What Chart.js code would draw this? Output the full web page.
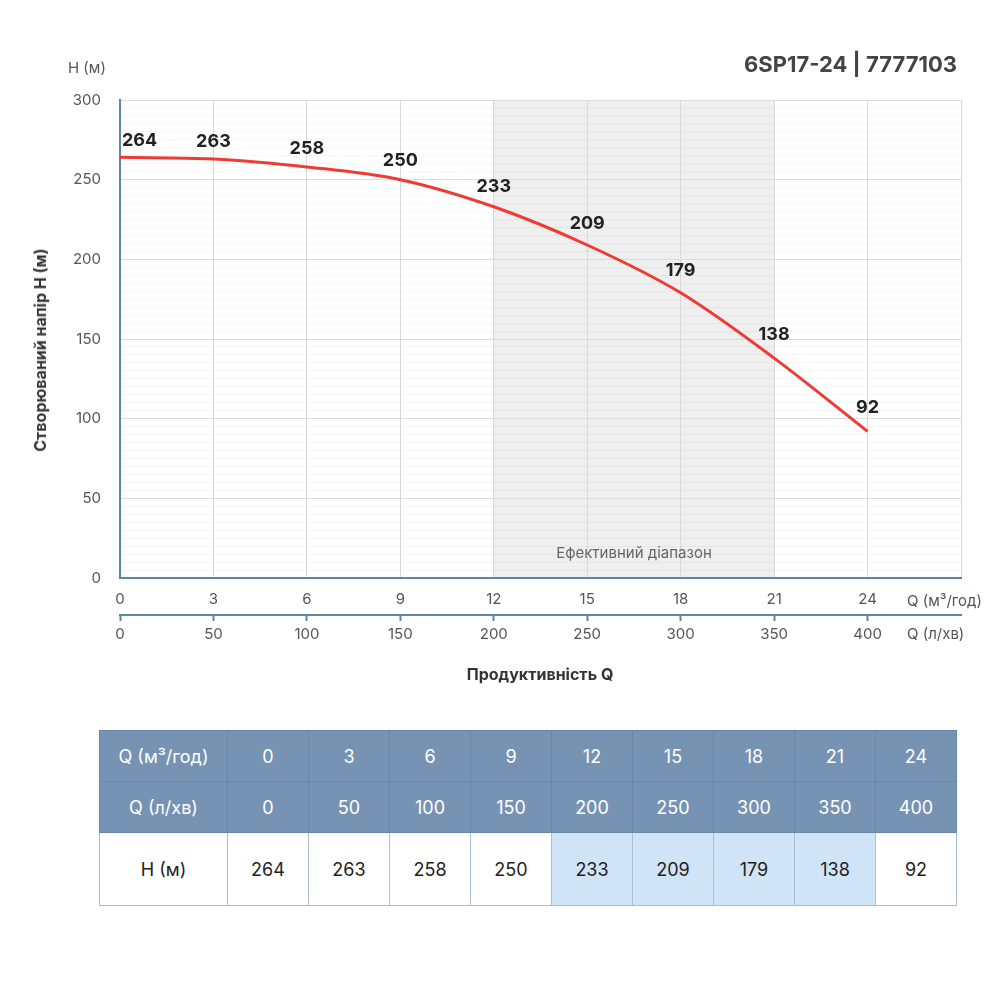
<!DOCTYPE html>
<html>
<head>
<meta charset="utf-8">
<script src="https://cdn.jsdelivr.net/npm/chart.js@4.4.1/dist/chart.umd.min.js"></script>
<style>
  body { margin: 0; width: 1000px; height: 1000px; position: relative; background: #fff;
         font-family: Inter, "Open Sans", sans-serif; color: #333; overflow: hidden; }
  #wrap { position: absolute; left: 0; top: 0; width: 1000px; height: 700px; }
  .txt { position: absolute; white-space: nowrap; }
  #title { right: 43px; top: 51px; font-size: 22px; font-weight: 700; color: #444; }
  #hunit { left: 68px; top: 58px; font-size: 15px; color: #555; }
  #ytitle { left: 40px; top: 350px; font-size: 16px; font-weight: 700; color: #333;
            transform: translate(-50%, -50%) rotate(-90deg); }
  #xtitle { left: 540px; top: 674px; font-size: 16px; font-weight: 700; color: #333;
            transform: translate(-50%, -50%); }
  .qunit { left: 907px; font-size: 15px; color: #555; transform: translateY(-50%); }
  table { position: absolute; left: 99px; top: 730px; width: 858px; border-collapse: collapse;
          table-layout: fixed; font-size: 18px; }
  td { text-align: center; border: 1px solid #a9c0d4; color: #222; padding: 0; }
  tr.head td { background: #7793b3; color: #fff; border-color: #6687a9; height: 50px; }
  tr.body td { height: 72px; background: #fff; }
  tr.body td.eff { background: #cfe4f7; }
</style>
</head>
<body>
<div id="wrap"><canvas id="chart"></canvas></div>
<div class="txt" id="title">6SP17-24 | 7777103</div>
<div class="txt" id="hunit">H (м)</div>
<div class="txt" id="ytitle">Створюваний напір H (м)</div>
<div class="txt" id="xtitle">Продуктивність Q</div>
<div class="txt qunit" style="top:600px">Q (м³/год)</div>
<div class="txt qunit" style="top:633px">Q (л/хв)</div>
<table id="tbl"></table>

<script>
// pump curve data
const qM3h = [0, 3, 6, 9, 12, 15, 18, 21, 24];
const qLmin = [0, 50, 100, 150, 200, 250, 300, 350, 400];
const headM = [264, 263, 258, 250, 233, 209, 179, 138, 92];
const effRange = [12, 21];
const effLabel = 'Ефективний діапазон';

const LABEL_FONT = '"Inter", "Open Sans", sans-serif';

// grey band behind the efficient range
const effBand = {
    id: 'effBand',
    beforeDraw(chart) {
        const ctx = chart.ctx, area = chart.chartArea, x = chart.scales.x;
        const x0 = x.getPixelForValue(effRange[0]);
        const x1 = x.getPixelForValue(effRange[1]);
        ctx.save();
        ctx.fillStyle = '#efefef';
        ctx.fillRect(x0, area.top, x1 - x0, area.bottom - area.top);
        ctx.restore();
    },
    beforeDatasetsDraw(chart) {
        const ctx = chart.ctx, area = chart.chartArea, x = chart.scales.x;
        const cx = (x.getPixelForValue(effRange[0]) + x.getPixelForValue(effRange[1])) / 2;
        ctx.save();
        ctx.font = '15px ' + LABEL_FONT;
        ctx.fillStyle = '#666';
        ctx.textAlign = 'center';
        ctx.textBaseline = 'middle';
        ctx.fillText(effLabel, cx, area.bottom - 25);
        ctx.restore();
    }
};

// value labels above each point
const pointLabels = {
    id: 'pointLabels',
    afterDatasetsDraw(chart) {
        const ctx = chart.ctx, pts = chart.getDatasetMeta(0).data;
        ctx.save();
        ctx.font = 'bold 18px ' + LABEL_FONT;
        ctx.fillStyle = '#222';
        ctx.textAlign = 'center';
        ctx.textBaseline = 'middle';
        pts.forEach(function (p, i) {
            const prev = pts[Math.max(i - 1, 0)];
            const next = pts[Math.min(i + 1, pts.length - 1)];
            const slope = Math.abs((next.y - prev.y) / (next.x - prev.x));
            const text = String(headM[i]);
            const w = ctx.measureText(text).width;
            let x = p.x;
            if (x - w / 2 < chart.chartArea.left + 2) x = chart.chartArea.left + 2 + w / 2;
            ctx.fillText(text, x, p.y - (17 + 9 * slope));
        });
        ctx.restore();
    }
};

const tickFont = { family: LABEL_FONT, size: 15 };

new Chart(document.getElementById('chart'), {
    type: 'line',
    data: {
        datasets: [{
            data: qM3h.map(function (q, i) { return { x: q, y: headM[i] }; }),
            borderColor: '#ee3b33',
            borderWidth: 3,
            pointRadius: 0,
            cubicInterpolationMode: 'monotone',
            fill: false
        }]
    },
    options: {
        responsive: true,
        maintainAspectRatio: false,
        animation: false,
        layout: { padding: { left: 0, top: 100, right: 39, bottom: 45 } },
        plugins: { legend: { display: false }, tooltip: { enabled: false } },
        scales: {
            x: {
                type: 'linear',
                position: 'bottom',
                min: 0, max: 27,
                afterFit: function (s) { s.height = 37; },
                ticks: {
                    stepSize: 3, autoSkip: false, maxRotation: 0, padding: 12,
                    color: '#555', font: tickFont,
                    callback: function (v) { return qM3h.indexOf(v) >= 0 ? String(v) : ''; }
                },
                grid: { color: '#d9d9d9', drawTicks: false },
                border: { color: '#5b87a7', width: 2 }
            },
            x2: {
                type: 'linear',
                position: 'bottom',
                min: 0, max: 450,
                afterFit: function (s) { s.height = 40; },
                ticks: {
                    stepSize: 50, autoSkip: false, maxRotation: 0, padding: 4,
                    color: '#555', font: tickFont,
                    callback: function (v) { return qLmin.indexOf(v) >= 0 ? String(v) : ''; }
                },
                grid: {
                    drawOnChartArea: false, tickLength: 6, tickWidth: 2,
                    color: function (c) { return qLmin.indexOf(c.tick.value) >= 0 ? '#5b87a7' : 'rgba(0,0,0,0)'; }
                },
                border: { color: '#5b87a7', width: 2 }
            },
            y: {
                min: 0, max: 300,
                afterFit: function (s) { s.width = 120; },
                ticks: {
                    stepSize: 5, autoSkip: false, padding: 19,
                    color: '#555', font: tickFont,
                    callback: function (v) { return v % 50 === 0 ? String(v) : ''; }
                },
                grid: {
                    drawTicks: false,
                    color: function (c) { return c.tick.value % 50 === 0 ? '#dcdcdc' : 'rgba(0,0,0,0.035)'; }
                },
                border: { color: '#5b87a7', width: 2 }
            }
        }
    },
    plugins: [effBand, pointLabels]
});

// data table under the chart
(function () {
    const tbl = document.getElementById('tbl');
    let html = '<colgroup><col style="width:128px">';
    qM3h.forEach(function () { html += '<col>'; });
    html += '</colgroup>';
    html += '<tr class="head"><td>Q (м³/год)</td>' + qM3h.map(function (v) { return '<td>' + v + '</td>'; }).join('') + '</tr>';
    html += '<tr class="head"><td>Q (л/хв)</td>' + qLmin.map(function (v) { return '<td>' + v + '</td>'; }).join('') + '</tr>';
    html += '<tr class="body"><td>H (м)</td>' + headM.map(function (v, i) {
        const eff = qM3h[i] >= effRange[0] && qM3h[i] <= effRange[1];
        return '<td' + (eff ? ' class="eff"' : '') + '>' + v + '</td>';
    }).join('') + '</tr>';
    tbl.innerHTML = html;
})();
</script>
</body>
</html>
